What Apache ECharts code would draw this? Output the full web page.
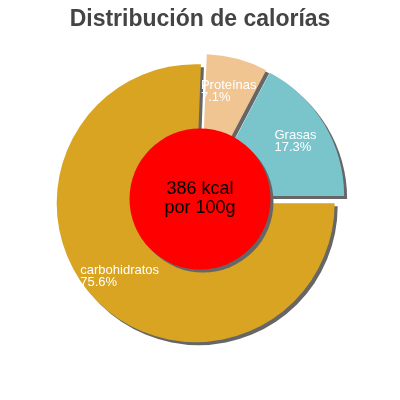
<!DOCTYPE html>
<html><head><meta charset="utf-8">
<script src="https://cdn.jsdelivr.net/npm/echarts@6/dist/echarts.min.js"></script>
<style>html,body{margin:0;padding:0;background:#fff}#c{width:400px;height:400px}</style>
</head><body><div id="c"></div>
<script>
var categories = ['carbohidratos', 'Proteínas', 'Grasas'];
var values = [75.6, 7.1, 17.3];
var colors = ['#D9A422', '#F0C592', '#7AC4CC'];
var centerLines = ['386 kcal', 'por 100g'];
var titleText = 'Distribución de calorías';

var font = 'Liberation Sans, Arial, sans-serif';
var pieData = categories.map(function (n, i) {
  return { name: n, value: values[i], selected: true, itemStyle: { color: colors[i] } };
});
var labelData = categories.map(function (n, i) {
  return { name: n, value: values[i], selected: true };
});
var chart = echarts.init(document.getElementById('c'), null, { renderer: 'canvas' });
chart.setOption({
  animation: false,
  title: { text: titleText, left: 'center', top: 3,
    textStyle: { fontFamily: font, fontSize: 23, fontWeight: 'bold', color: '#444' } },
  series: [
    { type: 'pie', center: [200, 199], radius: [0, 139], startAngle: 0, clockwise: true,
      selectedMode: 'multiple', selectedOffset: 6, silent: true,
      label: { show: false }, labelLine: { show: false },
      itemStyle: { shadowColor: '#666', shadowBlur: 0, shadowOffsetX: 3, shadowOffsetY: 3 },
      emphasis: { disabled: true },
      data: pieData },
    { type: 'pie', center: [200, 199], radius: [66, 139], startAngle: 0, clockwise: true,
      selectedMode: 'multiple', selectedOffset: 6, silent: true, z: 3,
      itemStyle: { color: 'rgba(0,0,0,0)' },
      labelLine: { show: false }, emphasis: { disabled: true },
      label: { show: true, position: 'inside', formatter: '{a|{b}}\n{a|{c}%}',
        rich: { a: { align: 'left', color: '#fff', fontSize: 13, fontFamily: font, lineHeight: 12 } } },
      data: labelData },
    { type: 'pie', center: [200, 199], radius: [0, 70.5], silent: true, z: 4,
      itemStyle: { color: '#ff0000', shadowColor: '#666', shadowBlur: 0, shadowOffsetX: 3, shadowOffsetY: 3 },
      labelLine: { show: false }, emphasis: { disabled: true },
      label: { show: true, position: 'center', formatter: centerLines.join('\n'),
        color: '#000', fontSize: 18, fontFamily: font, lineHeight: 19 },
      data: [{ name: 'kcal', value: 1 }] }
  ]
});
</script></body></html>
